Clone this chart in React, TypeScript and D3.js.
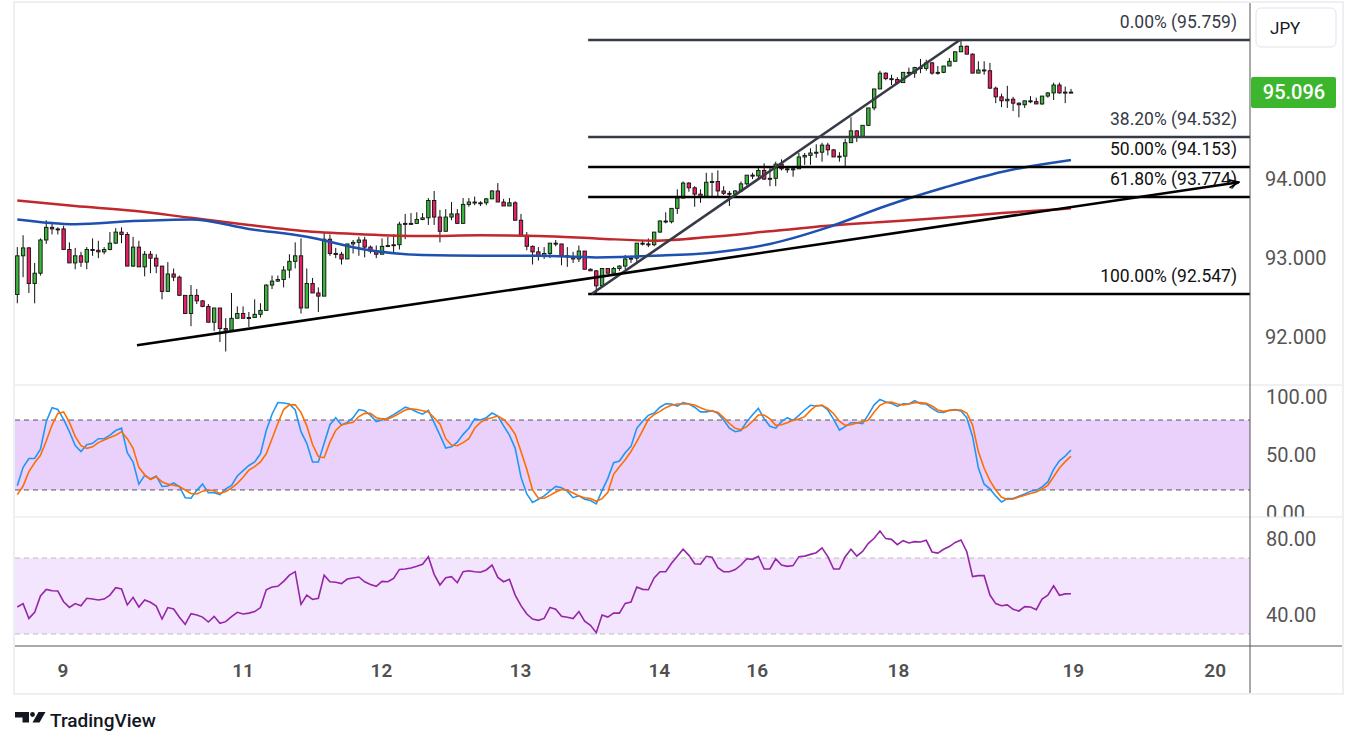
import * as d3 from 'd3';

// hourly candles: [open, high, low, close]
const candles: [number, number, number, number][] = [
  [92.54, 93.14, 92.43, 93.03], [93.03, 93.29, 92.76, 93.13], [93.13, 93.14, 92.56, 92.68], [92.68, 92.94, 92.43, 92.81],
  [92.81, 93.25, 92.78, 93.23], [93.23, 93.48, 93.18, 93.39], [93.39, 93.46, 93.30, 93.37], [93.37, 93.39, 93.30, 93.36],
  [93.37, 93.41, 93.11, 93.11], [93.11, 93.20, 92.94, 92.94], [92.94, 93.13, 92.86, 93.03], [93.03, 93.08, 92.89, 92.95],
  [92.95, 93.14, 92.86, 93.11], [93.11, 93.25, 93.03, 93.10], [93.10, 93.22, 93.00, 93.08], [93.08, 93.14, 93.05, 93.11],
  [93.11, 93.33, 93.10, 93.19], [93.19, 93.38, 93.18, 93.33], [93.33, 93.39, 93.19, 93.30], [93.30, 93.33, 92.90, 92.90],
  [92.90, 93.27, 92.89, 93.14], [93.14, 93.22, 92.89, 92.89], [92.89, 93.09, 92.77, 93.05], [93.05, 93.09, 92.81, 93.00],
  [93.00, 93.05, 92.81, 92.90], [92.90, 92.90, 92.48, 92.58], [92.58, 92.95, 92.58, 92.80], [92.80, 92.87, 92.71, 92.76],
  [92.76, 92.78, 92.53, 92.53], [92.53, 92.53, 92.30, 92.30], [92.30, 92.66, 92.14, 92.53], [92.53, 92.61, 92.42, 92.46],
  [92.46, 92.47, 92.38, 92.39], [92.39, 92.42, 92.19, 92.19], [92.19, 92.37, 92.08, 92.37], [92.37, 92.37, 91.94, 92.11],
  [92.11, 92.24, 91.82, 92.09], [92.09, 92.56, 92.09, 92.24], [92.24, 92.39, 92.24, 92.30], [92.30, 92.39, 92.24, 92.24],
  [92.24, 92.32, 92.13, 92.25], [92.25, 92.48, 92.25, 92.29], [92.29, 92.43, 92.25, 92.34], [92.34, 92.67, 92.34, 92.66],
  [92.66, 92.78, 92.61, 92.71], [92.71, 92.78, 92.70, 92.73], [92.73, 92.90, 92.63, 92.85], [92.85, 93.05, 92.75, 92.96],
  [92.96, 93.20, 92.87, 93.03], [93.03, 93.25, 92.30, 92.37], [92.37, 92.87, 92.37, 92.68], [92.68, 92.75, 92.56, 92.56],
  [92.56, 92.63, 92.32, 92.52], [92.52, 93.32, 92.52, 93.24], [93.24, 93.30, 93.03, 93.06], [93.06, 93.13, 93.00, 93.05],
  [93.05, 93.08, 92.92, 92.99], [92.99, 93.18, 92.99, 93.18], [93.18, 93.23, 93.06, 93.20], [93.20, 93.27, 93.03, 93.23],
  [93.23, 93.27, 93.01, 93.14], [93.14, 93.16, 93.06, 93.09], [93.09, 93.16, 93.00, 93.05], [93.05, 93.25, 93.05, 93.15],
  [93.15, 93.27, 93.14, 93.16], [93.16, 93.30, 93.06, 93.17], [93.17, 93.46, 93.11, 93.43], [93.43, 93.56, 93.24, 93.44],
  [93.44, 93.57, 93.42, 93.44], [93.44, 93.58, 93.44, 93.49], [93.49, 93.57, 93.48, 93.51], [93.51, 93.76, 93.42, 93.73],
  [93.73, 93.85, 93.42, 93.52], [93.52, 93.61, 93.20, 93.34], [93.34, 93.62, 93.34, 93.52], [93.52, 93.71, 93.48, 93.56],
  [93.56, 93.62, 93.44, 93.44], [93.44, 93.76, 93.44, 93.68], [93.68, 93.76, 93.65, 93.71], [93.71, 93.78, 93.67, 93.70],
  [93.70, 93.72, 93.66, 93.70], [93.70, 93.76, 93.67, 93.75], [93.75, 93.86, 93.75, 93.85], [93.85, 93.95, 93.71, 93.71],
  [93.71, 93.75, 93.66, 93.66], [93.66, 93.76, 93.66, 93.70], [93.70, 93.72, 93.48, 93.48], [93.48, 93.56, 93.29, 93.29],
  [93.29, 93.33, 93.10, 93.15], [93.15, 93.16, 92.92, 93.08], [93.08, 93.14, 92.97, 93.03], [93.03, 93.14, 92.99, 93.06],
  [93.06, 93.19, 93.00, 93.19], [93.19, 93.23, 93.15, 93.18], [93.18, 93.18, 92.91, 93.03], [93.03, 93.14, 92.89, 93.02],
  [93.02, 93.08, 92.94, 92.99], [92.99, 93.16, 92.95, 93.09], [93.09, 93.09, 92.86, 92.86], [92.86, 92.87, 92.84, 92.84],
  [92.84, 92.85, 92.56, 92.65], [92.65, 92.87, 92.65, 92.87], [92.87, 92.87, 92.81, 92.81], [92.81, 92.89, 92.81, 92.87],
  [92.87, 92.91, 92.84, 92.90], [92.90, 93.04, 92.86, 92.99], [92.99, 93.03, 92.94, 93.00], [93.00, 93.19, 92.94, 93.19],
  [93.19, 93.22, 93.16, 93.18], [93.18, 93.25, 93.14, 93.17], [93.17, 93.33, 93.15, 93.33], [93.33, 93.48, 93.32, 93.47],
  [93.47, 93.58, 93.44, 93.46], [93.46, 93.63, 93.44, 93.63], [93.63, 93.87, 93.56, 93.76], [93.76, 93.97, 93.76, 93.95],
  [93.95, 93.96, 93.84, 93.89], [93.89, 93.91, 93.65, 93.81], [93.81, 93.87, 93.70, 93.77], [93.77, 94.08, 93.77, 93.96],
  [93.96, 94.08, 93.78, 93.97], [93.97, 94.11, 93.78, 93.85], [93.85, 93.91, 93.80, 93.82], [93.82, 93.85, 93.66, 93.81],
  [93.81, 93.86, 93.80, 93.85], [93.85, 93.97, 93.84, 93.94], [93.94, 94.05, 93.92, 94.05], [94.05, 94.08, 94.00, 94.04],
  [94.04, 94.15, 94.01, 94.11], [94.11, 94.20, 93.99, 94.00], [94.00, 94.14, 93.91, 94.01], [94.01, 94.22, 93.91, 94.19],
  [94.19, 94.25, 94.11, 94.13], [94.13, 94.15, 94.08, 94.12], [94.12, 94.15, 94.03, 94.13], [94.13, 94.33, 94.13, 94.28],
  [94.28, 94.33, 94.18, 94.30], [94.30, 94.39, 94.18, 94.33], [94.33, 94.44, 94.27, 94.34], [94.34, 94.46, 94.22, 94.43],
  [94.43, 94.46, 94.30, 94.37], [94.37, 94.38, 94.28, 94.28], [94.28, 94.34, 94.22, 94.29], [94.29, 94.51, 94.15, 94.46],
  [94.46, 94.78, 94.46, 94.61], [94.61, 94.62, 94.47, 94.54], [94.54, 94.68, 94.54, 94.68], [94.68, 94.90, 94.67, 94.90],
  [94.90, 95.14, 94.87, 95.14], [95.14, 95.37, 95.14, 95.34], [95.34, 95.35, 95.25, 95.27], [95.27, 95.32, 95.19, 95.26],
  [95.26, 95.29, 95.20, 95.22], [95.22, 95.35, 95.22, 95.35], [95.35, 95.41, 95.32, 95.34], [95.34, 95.42, 95.28, 95.41],
  [95.41, 95.52, 95.34, 95.40], [95.40, 95.51, 95.37, 95.47], [95.47, 95.48, 95.32, 95.34], [95.34, 95.43, 95.32, 95.35],
  [95.35, 95.43, 95.34, 95.43], [95.43, 95.53, 95.43, 95.49], [95.49, 95.61, 95.49, 95.61], [95.61, 95.76, 95.61, 95.68],
  [95.68, 95.69, 95.58, 95.58], [95.58, 95.59, 95.34, 95.34], [95.34, 95.49, 95.34, 95.38], [95.38, 95.49, 95.32, 95.37],
  [95.37, 95.47, 95.14, 95.15], [95.15, 95.17, 94.96, 95.04], [95.04, 95.08, 94.91, 94.99], [94.99, 95.18, 94.90, 95.01],
  [95.01, 95.04, 94.86, 94.96], [94.96, 94.97, 94.78, 94.94], [94.94, 94.99, 94.90, 94.99], [94.99, 95.05, 94.96, 94.98],
  [94.98, 95.03, 94.95, 94.95], [94.95, 95.05, 94.94, 95.05], [95.05, 95.10, 95.03, 95.09], [95.09, 95.22, 95.00, 95.19],
  [95.19, 95.22, 95.08, 95.09], [95.09, 95.17, 94.96, 95.10], [95.10, 95.14, 95.09, 95.096],
];

// stochastic %K / %D
const stochK = [
  23.7, 39.4, 47, 47, 55, 78.6, 90.6, 89, 80.6, 70, 58, 53, 58.9, 60, 64, 64, 67, 71, 73, 52,
  44, 25, 32.6, 29.4, 32, 23, 23.4, 26, 23, 13.4, 12.9, 19.7, 25, 17.7, 17.7, 16, 21, 24, 32, 36.6,
  41, 44, 51, 71, 85, 95, 94.6, 93.7, 88.6, 70, 60, 44, 44, 60, 76, 82, 75.7, 78, 82, 89,
  88, 84, 78.6, 80, 81.7, 84.6, 87.7, 91, 89.4, 86.9, 85, 88.3, 77.7, 67, 56, 57, 61, 67.7, 73, 81,
  80, 82, 86, 83.4, 75, 67, 55.7, 31, 16.6, 9.4, 12, 15, 19, 23, 22, 19, 13.4, 15, 12, 10.9,
  8, 19.4, 30, 43.4, 44.9, 52, 57.4, 72.9, 79, 84, 86, 91, 94, 93.7, 92, 94.9, 93.7, 91, 87, 87,
  88, 85.7, 80, 73, 70, 71, 78.6, 84.6, 90, 81, 74.6, 73, 78.6, 82, 79.7, 84, 88.6, 92.6, 92, 92.6,
  88.6, 80.6, 71.4, 74.3, 77.7, 77.7, 76.9, 84.6, 93, 97.7, 95.4, 94.3, 91.7, 94, 93.7, 96.6, 94, 93.7, 90, 86.9,
  86.6, 88.3, 88.9, 87.7, 82, 65.7, 39, 25, 20.9, 14.9, 9.7, 12.6, 12.6, 14.6, 16.6, 18.9, 19.7, 22.6, 26.9, 37.7,
  45, 49, 54.3,
];
const stochD = [
  16, 23.4, 35.7, 43.4, 49.7, 62, 75.7, 85.7, 87, 78, 66, 58, 55.7, 57, 60.6, 62.9, 65, 67, 70, 64,
  55.7, 39.4, 33, 29, 31.4, 27, 25, 24, 23, 20, 17, 16.6, 19, 20, 19.4, 17, 18.6, 21.7, 25.7, 30.9,
  37, 40, 44, 51, 64, 77, 89, 93, 93, 86.6, 75, 59, 48.6, 47.7, 61, 71, 75.7, 77, 78, 83,
  85.7, 85.7, 82, 81, 81, 83, 85.7, 88.6, 89.7, 89, 88, 86.9, 82, 76.6, 64, 58.6, 58, 60.6, 64, 72.9,
  78, 80.6, 82, 83.4, 80.6, 75, 67.7, 53, 37.7, 20, 12.9, 12.9, 15.4, 18.3, 20.3, 20, 17.4, 14.9, 13.4, 12.6,
  10.3, 12.6, 18, 33.4, 40, 46, 53, 61.4, 71, 80.6, 84.6, 87.4, 90.6, 92.6, 93.7, 93.7, 93.7, 92.9, 90.6, 88.6,
  87.7, 86.6, 82, 77, 72.9, 71.7, 74.3, 78.9, 84.3, 84.3, 81, 75.4, 76, 77.7, 79.7, 80.9, 82.9, 88.3, 92.3, 92.6,
  90, 85.4, 79, 75.4, 76, 77.4, 78.6, 80, 86.9, 92.6, 94.9, 95.4, 93.7, 92.9, 93.7, 94.9, 94.9, 94.3, 92, 88.6,
  87.4, 88.3, 88.6, 88.6, 86, 75.7, 52.9, 38.6, 28, 20, 13.7, 12, 12.3, 14, 15.4, 17, 18.3, 20.9, 24, 31.4,
  38.9, 44.3, 49,
];

// RSI
const rsi = [
  44.2, 46, 38.2, 41.4, 50, 53.5, 52.8, 52.6, 47, 44, 46, 44.9, 48.8, 48.4, 47.9, 48.4, 50.5, 54.4, 53.7, 45.3,
  49.3, 44.2, 47.9, 46.7, 44.7, 37.9, 43.9, 43.2, 38.8, 35.1, 40.7, 40, 38.9, 36.3, 39.3, 35.6, 36.5, 39.1, 41.4, 40.5,
  41, 41.8, 43.9, 53.3, 54.7, 55.1, 57.7, 61, 62.8, 45.6, 50.5, 48.2, 48.8, 61, 57.5, 57.2, 56.5, 58.9, 59.5, 60,
  57.5, 56.1, 55.1, 57.7, 57.5, 59.3, 64, 64.2, 64.7, 65.6, 66.7, 70.7, 61.4, 55.8, 59.6, 60.2, 57, 62.8, 63.3, 62.8,
  62.5, 63.7, 66.3, 59.8, 57.5, 58.8, 50.5, 44.9, 40.5, 37.9, 37.2, 38.2, 44, 43, 39.3, 38.8, 38.1, 41.8, 36.8, 34.6,
  30.7, 40, 38.9, 41, 41, 46.1, 46.8, 54.7, 53.5, 53.3, 59.5, 62.8, 62.8, 67.2, 70.9, 74.6, 71.4, 67, 66.7, 70.9,
  70.4, 64.9, 62.8, 62.8, 63.9, 66.3, 69.6, 69.3, 70.9, 64.2, 64.2, 69.5, 66.3, 65.6, 66, 70.7, 71, 71.9, 72.8, 75.3,
  70.7, 64.2, 64.2, 70.7, 74.6, 71, 73.5, 77.7, 80.4, 84.2, 80.2, 79.8, 77, 79.1, 77.9, 78.6, 78.4, 79.3, 73.2, 72.6,
  74.6, 76, 78.2, 79.5, 73.3, 60.2, 60.7, 60.7, 50.5, 46, 44.9, 45.3, 43, 42.1, 44.4, 44.2, 42.8, 48.4, 50.4, 55.4,
  50.4, 51.1, 51.2,
];

// moving averages read at every tenth bar
const maIdx = [0, 10, 20, 30, 40, 50, 60, 70, 80, 90, 100, 110, 120, 130, 140, 150, 160, 170, 180, 182];
const maRed = [93.73, 93.66, 93.6, 93.51, 93.42, 93.34, 93.3, 93.28, 93.29, 93.28, 93.25, 93.22, 93.27, 93.34, 93.41, 93.46, 93.51, 93.57, 93.62, 93.63];
const maBlue = [93.49, 93.43, 93.47, 93.49, 93.37, 93.27, 93.11, 93.04, 93.03, 93.03, 93.01, 93.03, 93.07, 93.18, 93.39, 93.66, 93.89, 94.09, 94.22, 94.24];

const fibHigh = 95.759;
const fibLow = 92.547;
const fibRatios = [0, 0.382, 0.5, 0.618, 1];
const fibColors = ['#363a45', '#363a45', '#000000', '#000000', '#000000'];
const fibStart = 98.6;
const steepLine: [number, number][] = [[99.2, 92.547], [162.8, 95.759]];
const supportLine: [number, number][] = [[20.67, 91.9], [211.0, 93.96]];

const priceTicks = [92, 93, 94];
const stochTicks = [100, 50, 0];
const rsiTicks = [80, 40];
const dayTicks = [
  { label: '9', at: 7.9 }, { label: '11', at: 39.0 }, { label: '12', at: 62.9 }, { label: '13', at: 86.9 },
  { label: '14', at: 110.9 }, { label: '16', at: 127.8 }, { label: '18', at: 152.2 }, { label: '19', at: 182.4 },
  { label: '20', at: 206.9 },
];
const lastPrice = 95.096;

const FONT = 'Roboto, "Noto Sans", sans-serif';

export default function App() {
  const W = 1358, H = 747;
  const left = 15, right = 1250, frameRight = 1342;
  const mainTop = 3, mainBottom = 385, stochBottom = 517, rsiBottom = 646, axisBottom = 694;

  const x = d3.scaleLinear().domain([0, 182]).range([17.3, 1071]);
  const yP = d3.scaleLinear().domain([fibLow, fibHigh]).range([294, 40]);
  const yS = d3.scaleLinear().domain([0, 100]).range([513.3, 396.7]);
  const yR = d3.scaleLinear().domain([30, 70]).range([634, 558]);

  const maLine = d3.line<number>().x((_, i) => x(maIdx[i])).y(d => yP(d)).curve(d3.curveMonotoneX);
  const seriesLine = (y: d3.ScaleLinear<number, number>) =>
    d3.line<number>().x((_, i) => x(i)).y(d => y(d));
  const segLine = d3.line<[number, number]>().x(d => x(d[0])).y(d => yP(d[1]));

  const axisText = { fontFamily: FONT, fontSize: 20, fill: '#555' };

  return (
    <svg width={W} height={H} style={{ position: 'absolute', left: 0, top: 0, background: '#fff' }}>
      <defs>
        <clipPath id="mainClip"><rect x={left} y={mainTop} width={right - left} height={mainBottom - mainTop} /></clipPath>
        <clipPath id="stochClip"><rect x={left} y={mainBottom} width={frameRight - left} height={stochBottom - mainBottom} /></clipPath>
        <clipPath id="rsiClip"><rect x={left} y={stochBottom} width={frameRight - left} height={rsiBottom - stochBottom} /></clipPath>
        <marker id="arrow" viewBox="0 0 12 10" refX="11" refY="5" markerWidth="12" markerHeight="10"
          markerUnits="userSpaceOnUse" orient="auto">
          <path d="M1,1 L11,5 L1,9" fill="none" stroke="#000" strokeWidth="1.8" />
        </marker>
      </defs>

      {/* frame */}
      <rect x={14} y={2} width={frameRight - 14 + 1} height={axisBottom - 2} fill="#fff" stroke="#eeeff2" strokeWidth={2} />

      {/* main pane */}
      <g clipPath="url(#mainClip)">
        {candles.map(([o, h, l, c], i) => {
          const up = c >= o;
          const top = yP(Math.max(o, c));
          const bh = Math.max(1, yP(Math.min(o, c)) - top);
          return (
            <g key={i}>
              <line x1={x(i)} x2={x(i)} y1={yP(Math.max(h, o, c))} y2={yP(Math.min(l, o, c))} stroke="#111" strokeWidth={1} />
              <rect x={x(i) - 1.7} y={top} width={3.4} height={bh}
                fill={up ? '#3bb53b' : '#e91e63'} stroke="#111" strokeWidth={0.9} />
            </g>
          );
        })}
        <path d={maLine(maRed) ?? ''} fill="none" stroke="#c0282d" strokeWidth={2.5} />
        <path d={maLine(maBlue) ?? ''} fill="none" stroke="#1e50b0" strokeWidth={2.5} />

        {fibRatios.map((r, k) => {
          const p = fibHigh - r * (fibHigh - fibLow);
          const yy = yP(p);
          return (
            <g key={r}>
              <line x1={x(fibStart)} x2={right} y1={yy} y2={yy} stroke={fibColors[k]} strokeWidth={2.6} />
              <text x={1237} y={yy - 12} textAnchor="end" fontFamily={FONT} fontSize={17.5} fill={fibColors[k] === '#000000' ? '#111' : '#363a45'}>
                {`${(r * 100).toFixed(2)}% (${p.toFixed(3)})`}
              </text>
            </g>
          );
        })}
        <path d={segLine(steepLine) ?? ''} fill="none" stroke="#363a45" strokeWidth={2.6} />
        <path d={segLine(supportLine) ?? ''} fill="none" stroke="#000" strokeWidth={2.6} markerEnd="url(#arrow)" />
      </g>

      {/* stochastic pane */}
      <g clipPath="url(#stochClip)">
        <rect x={left} y={yS(80)} width={right - left} height={yS(20) - yS(80)} fill="#e9d1fc" />
        {[80, 20].map(v => (
          <line key={v} x1={left} x2={right} y1={yS(v)} y2={yS(v)} stroke="#555" strokeWidth={1} strokeDasharray="5,4" />
        ))}
        <path d={seriesLine(yS)(stochK) ?? ''} fill="none" stroke="#2196f3" strokeWidth={1.6} />
        <path d={seriesLine(yS)(stochD) ?? ''} fill="none" stroke="#ff6d00" strokeWidth={1.6} />
        {stochTicks.map(t => (
          <text key={t} x={1266} y={yS(t)} dominantBaseline="central" {...axisText}>{t.toFixed(2)}</text>
        ))}
      </g>

      {/* RSI pane */}
      <g clipPath="url(#rsiClip)">
        <rect x={left} y={yR(70)} width={right - left} height={yR(30) - yR(70)} fill="#f3e5fd" />
        {[70, 30].map(v => (
          <line key={v} x1={left} x2={right} y1={yR(v)} y2={yR(v)} stroke="#bbb" strokeWidth={1} strokeDasharray="5,4" />
        ))}
        <path d={seriesLine(yR)(rsi) ?? ''} fill="none" stroke="#9526a8" strokeWidth={1.6} />
        {rsiTicks.map(t => (
          <text key={t} x={1266} y={yR(t)} dominantBaseline="central" {...axisText}>{t.toFixed(2)}</text>
        ))}
      </g>

      {/* separators and axes */}
      <line x1={left} x2={frameRight} y1={mainBottom} y2={mainBottom} stroke="#e0e3eb" strokeWidth={1} />
      <line x1={left} x2={frameRight} y1={stochBottom} y2={stochBottom} stroke="#e0e3eb" strokeWidth={1} />
      <line x1={left} x2={frameRight} y1={rsiBottom} y2={rsiBottom} stroke="#555" strokeWidth={1} />
      <line x1={right} x2={right} y1={mainTop} y2={axisBottom - 1} stroke="#555" strokeWidth={1} />

      {priceTicks.map(t => (
        <text key={t} x={1265} y={yP(t)} dominantBaseline="central" {...axisText}>{t.toFixed(3)}</text>
      ))}

      <rect x={right + 1} y={yP(lastPrice) - 15.5} width={85} height={31} rx={2} fill="#3cb62d" />
      <text x={right + 44} y={yP(lastPrice)} textAnchor="middle" dominantBaseline="central"
        fontFamily={FONT} fontSize={20} fontWeight={500} fill="#fff">{lastPrice.toFixed(3)}</text>

      <rect x={1256} y={8} width={80} height={39} rx={5} fill="#fff" stroke="#e0e3eb" strokeWidth={1} />
      <text x={1270} y={28} dominantBaseline="central" fontFamily={FONT} fontSize={17} fill="#131722">JPY</text>

      {dayTicks.map(d => (
        <text key={d.label} x={x(d.at)} y={670} textAnchor="middle" dominantBaseline="central"
          fontFamily={FONT} fontSize={19} fontWeight={600} fill="#505050">{d.label}</text>
      ))}

      {/* logo */}
      <g fill="#131722">
        <path d="M15,712 H29 V722.5 H22.5 V717.5 H15 Z" />
        <circle cx={32.5} cy={714.5} r={2.4} />
        <path d="M38.5,712 H45.5 L39.5,722.5 H32.5 Z" />
        <text x={50} y={727} fontFamily={FONT} fontSize={19} fontWeight={500}>TradingView</text>
      </g>
    </svg>
  );
}
